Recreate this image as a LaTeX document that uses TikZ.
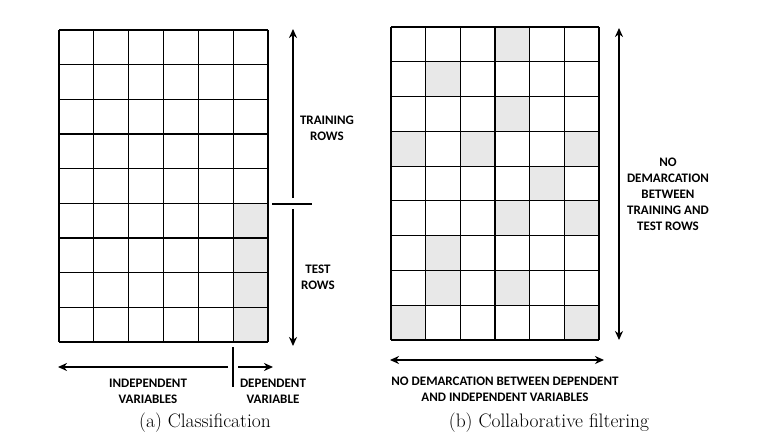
\documentclass[tikz,border=0pt]{standalone}
\usepackage{fontspec}
\newfontfamily\lblfont{Carlito}
\usetikzlibrary{arrows.meta}
\definecolor{cellgray}{HTML}{E8E8E8}
\tikzset{
  gridline/.style={line width=1.2pt, black},
  bigarrow/.style={line width=2pt, {Stealth[length=9pt,width=8pt]}-{Stealth[length=9pt,width=8pt]}},
  onearrow/.style={line width=2pt, -{Stealth[length=9pt,width=8pt]}},
  tickline/.style={line width=1.5pt},
  lbl/.style={font=\lblfont\bfseries\fontsize{13}{16}\selectfont, align=center, inner sep=0pt},
  capt/.style={font=\fontsize{19.5}{22}\selectfont, inner sep=0pt}
}
\begin{document}
\begin{tikzpicture}[x=1pt,y=-1pt]
\useasboundingbox (0,0) rectangle (780,436);

% ---------- (a) classification grid ----------
\def\ax{59}\def\ay{30}\def\acw{34.833}\def\arh{34.667}
\foreach \r in {6,...,9}
  \fill[cellgray] ({\ax+5*\acw},{\ay+(\r-1)*\arh}) rectangle ++(\acw,\arh);
\foreach \c in {0,...,6}
  \draw[gridline] ({\ax+\c*\acw},\ay) -- ({\ax+\c*\acw},{\ay+9*\arh});
\foreach \r in {0,...,9}
  \draw[gridline] (\ax,{\ay+\r*\arh}) -- ({\ax+6*\acw},{\ay+\r*\arh});

% rows: training / test split
\coordinate (trtop) at (293,29);
\coordinate (trbot) at (293,198);
\coordinate (splitL) at (272,204);
\coordinate (splitR) at (312,204);
\coordinate (tetop) at (293,209);
\coordinate (tebot) at (293,346);
\draw[onearrow] (trbot) -- (trtop);
\draw[tickline] (splitL) -- (splitR);
\draw[onearrow] (tetop) -- (tebot);
\node[lbl] (trainlbl) at (327,128) {TRAINING\\ROWS};
\node[lbl] (testlbl) at (318,277) {TEST\\ROWS};

% columns: independent / dependent split
\coordinate (indR) at (228,367);
\coordinate (indL) at (58,367);
\coordinate (colsplitT) at (233,347);
\coordinate (colsplitB) at (233,387);
\coordinate (depL) at (238,367);
\coordinate (depR) at (273,367);
\draw[onearrow] (indR) -- (indL);
\draw[tickline] (colsplitT) -- (colsplitB);
\draw[onearrow] (depL) -- (depR);
\node[lbl] (indlbl) at (148,391) {INDEPENDENT\\VARIABLES};
\node[lbl] (deplbl) at (273,391) {DEPENDENT\\VARIABLE};

\node[capt] (capa) at (205,423) {(a) Classification};

% ---------- (b) collaborative filtering grid ----------
\def\bx{391}\def\by{27}\def\bcw{34.667}\def\brh{34.778}
\foreach \r/\c in {1/4,2/2,3/4,4/1,4/3,4/6,5/5,6/4,6/6,7/2,8/2,8/4,9/1,9/6}
  \fill[cellgray] ({\bx+(\c-1)*\bcw},{\by+(\r-1)*\brh}) rectangle ++(\bcw,\brh);
\foreach \c in {0,...,6}
  \draw[gridline] ({\bx+\c*\bcw},\by) -- ({\bx+\c*\bcw},{\by+9*\brh});
\foreach \r in {0,...,9}
  \draw[gridline] (\bx,{\by+\r*\brh}) -- ({\bx+6*\bcw},{\by+\r*\brh});

\coordinate (rtop) at (619,28);
\coordinate (rbot) at (619,340);
\draw[bigarrow] (rtop) -- (rbot);
\node[lbl] (rowlbl) at (668,194) {NO\\DEMARCATION\\BETWEEN\\TRAINING AND\\TEST ROWS};

\coordinate (bl) at (390,360);
\coordinate (br) at (604,360);
\draw[bigarrow] (bl) -- (br);
\node[lbl] (collbl) at (505,389) {NO DEMARCATION BETWEEN DEPENDENT\\AND INDEPENDENT VARIABLES};

\node[capt] (capb) at (549,423) {(b) Collaborative filtering};
\end{tikzpicture}
\end{document}
